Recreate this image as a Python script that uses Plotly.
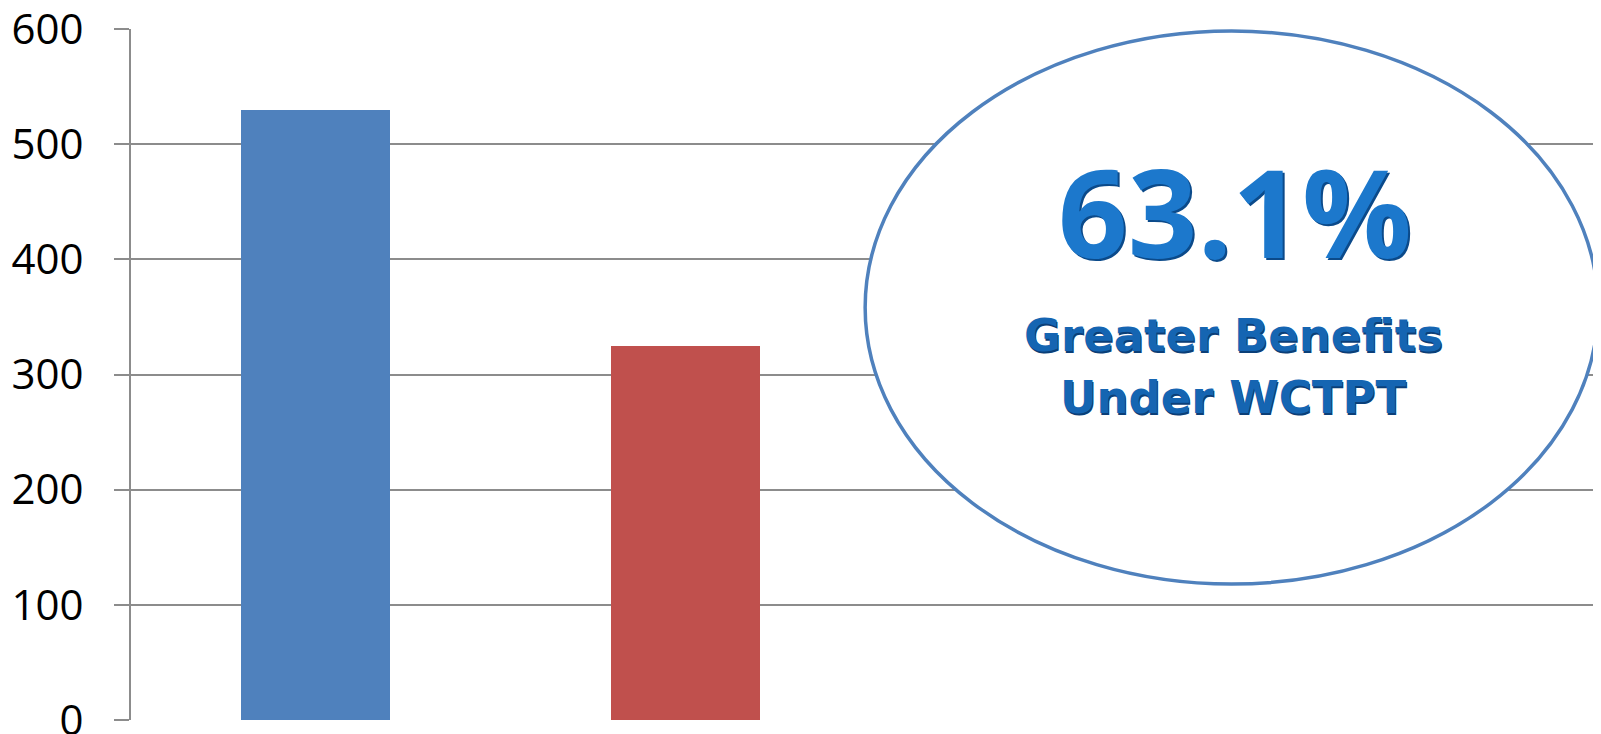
import plotly.graph_objects as go

# Data
categories = ["A", "B"]
values = [530, 325]
bar_colors = ["#4f81bd", "#c0504d"]
y_ticks = [0, 100, 200, 300, 400, 500, 600]
headline = "63.1%"
sub_lines = ["Greater Benefits", "Under WCTPT"]

# page has an 8px body margin; figure sized to fit the window
OFF = 8
W, H = 1601 - OFF, 734 - OFF
PL, PT, PB, PR = 130.7, 28.6, 720.0, 1601.0   # plot area in page pixels
plot_w = PR - PL
plot_h = PB - PT

def px(x):
    return (x - PL) / plot_w

def py(y):
    return (PB - y) / plot_h

fig = go.Figure()
fig.add_trace(go.Bar(
    x=[0, 1], y=values, marker=dict(color=bar_colors, line=dict(width=0)),
    width=0.403, hoverinfo="skip", showlegend=False,
))

fig.update_layout(
    width=W, height=H,
    margin=dict(l=PL - OFF, r=0, t=PT - OFF, b=H - (PB - OFF), autoexpand=False),
    paper_bgcolor="white", plot_bgcolor="white",
    bargap=0,
    xaxis=dict(range=[-0.5, -0.5 + plot_w / 369.5], showgrid=False, zeroline=False,
               showticklabels=False, ticks="", showline=False),
    yaxis=dict(range=[0, 600], tickvals=y_ticks, showgrid=True,
               gridcolor="#8c8c8c", gridwidth=2, zeroline=False,
               showline=True, linecolor="#8c8c8c", linewidth=2,
               ticks="outside", ticklen=15, tickcolor="#8c8c8c", tickwidth=2,
               ticklabelstandoff=22, ticklabeloverflow="allow",
               tickfont=dict(family="Open Sans", size=42, color="black")),
    font=dict(family="Open Sans"),
)

fig.add_shape(type="circle", xref="paper", yref="paper",
              x0=px(865), x1=px(1598), y0=py(584), y1=py(30.6),
              line=dict(color="#4f81bd", width=3.5), fillcolor="white", layer="above")

# headline with a slight dark shadow
for dx, dy, col in [(2, -2, "#0b4a8a"), (0, 0, "#1c78cc")]:
    fig.add_annotation(xref="paper", yref="paper", x=px(1235), y=py(210.4),
                       xshift=dx, yshift=dy,
                       text=f"<b>{headline}</b>", showarrow=False,
                       font=dict(family="Open Sans", size=122, color=col),
                       xanchor="center", yanchor="middle")

for line, yc in zip(sub_lines, [335.5, 397.5]):
    for dx, dy, col in [(1.5, -1.5, "#0b3f78"), (0, 0, "#1565b2")]:
        fig.add_annotation(xref="paper", yref="paper", x=px(1233), y=py(yc),
                           xshift=dx, yshift=dy,
                           text=f"<b>{line}</b>", showarrow=False,
                           font=dict(family="DejaVu Sans", size=45, color=col),
                           xanchor="center", yanchor="middle")

fig.write_html("out.html")
